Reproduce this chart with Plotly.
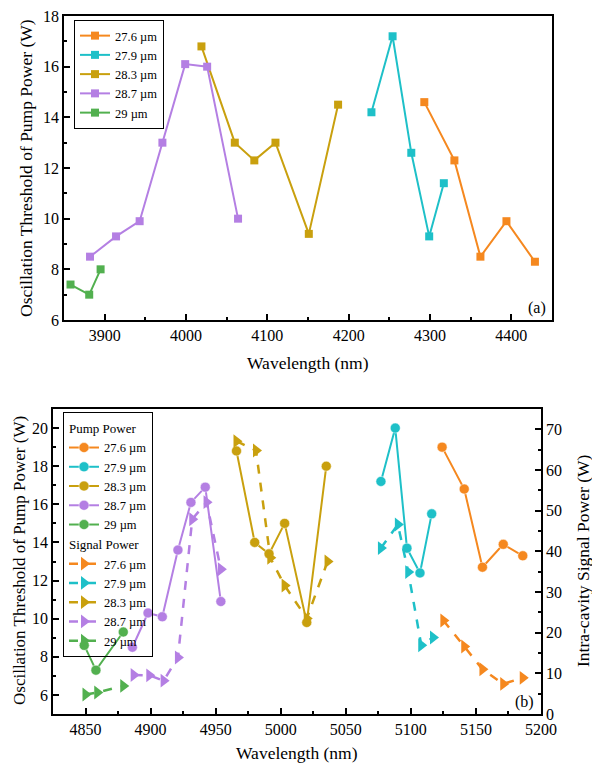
import plotly.graph_objects as go

W, H = 600, 773
OFF = 8  # page body margin offset

# ---------- data : panel (a) ----------
labels = ["27.6 µm", "27.9 µm", "28.3 µm", "28.7 µm", "29 µm"]
colors = ["#F5881F", "#1EC0C8", "#C9A00E", "#B47FE3", "#52B04F"]

a_276_x = [4293, 4330, 4362, 4394, 4429]
a_276_y = [14.6, 12.3, 8.5, 9.9, 8.3]
a_279_x = [4228, 4254, 4277, 4299, 4317]
a_279_y = [14.2, 17.2, 12.6, 9.3, 11.4]
a_283_x = [4019, 4060, 4084, 4110, 4151, 4187]
a_283_y = [16.8, 13.0, 12.3, 13.0, 9.4, 14.5]
a_287_x = [3882, 3914, 3943, 3971, 3999, 4026, 4064]
a_287_y = [8.5, 9.3, 9.9, 13.0, 16.1, 16.0, 10.0]
a_29_x = [3858, 3881, 3895]
a_29_y = [7.4, 7.0, 8.0]

# ---------- data : panel (b) pump power ----------
bp_276_x = [5124, 5141, 5155, 5171, 5186]
bp_276_y = [19.0, 16.8, 12.7, 13.9, 13.3]
bp_279_x = [5077, 5088, 5097, 5107, 5116]
bp_279_y = [17.2, 20.0, 13.7, 12.4, 15.5]
bp_283_x = [4966, 4980, 4991, 5003, 5020, 5035]
bp_283_y = [18.8, 14.0, 13.4, 15.0, 9.8, 18.0]
bp_287_x = [4886, 4898, 4909, 4921, 4931, 4942, 4954]
bp_287_y = [8.5, 10.3, 10.1, 13.6, 16.1, 16.9, 10.9]
bp_29_x = [4849, 4858, 4879]
bp_29_y = [8.6, 7.3, 9.3]

# ---------- data : panel (b) signal power ----------
bs_276_x = [5125, 5141, 5155, 5171, 5186]
bs_276_y = [23.0, 16.6, 11.0, 7.4, 8.9]
bs_279_x = [5077, 5090, 5098, 5108, 5117]
bs_279_y = [40.8, 46.6, 34.9, 16.9, 18.8]
bs_283_x = [4966, 4981, 4992, 5003, 5020, 5036]
bs_283_y = [67.1, 64.8, 38.4, 31.6, 23.5, 37.5]
bs_287_x = [4887, 4899, 4910, 4921, 4932, 4943, 4954]
bs_287_y = [9.6, 9.5, 8.2, 13.9, 47.9, 52.1, 35.6]
bs_29_x = [4850, 4859, 4879]
bs_29_y = [4.8, 5.3, 6.9]

a_series = [(a_276_x, a_276_y), (a_279_x, a_279_y), (a_283_x, a_283_y),
            (a_287_x, a_287_y), (a_29_x, a_29_y)]
bp_series = [(bp_276_x, bp_276_y), (bp_279_x, bp_279_y), (bp_283_x, bp_283_y),
             (bp_287_x, bp_287_y), (bp_29_x, bp_29_y)]
bs_series = [(bs_276_x, bs_276_y), (bs_279_x, bs_279_y), (bs_283_x, bs_283_y),
             (bs_287_x, bs_287_y), (bs_29_x, bs_29_y)]

FONT = "Liberation Serif, Times New Roman, DejaVu Serif, serif"


def px(x):
    return (x - OFF) / W


def py(y):
    return 1 - (y - OFF) / H


fig = go.Figure()

for (x, y), lab, c in zip(a_series, labels, colors):
    fig.add_trace(go.Scatter(x=x, y=y, mode="lines+markers", name=lab,
                             line=dict(color=c, width=2),
                             marker=dict(symbol="square", size=8, color=c),
                             xaxis="x", yaxis="y", legend="legend"))

for (x, y), lab, c in zip(bp_series, labels, colors):
    fig.add_trace(go.Scatter(x=x, y=y, mode="lines+markers", name=lab,
                             line=dict(color=c, width=2),
                             marker=dict(symbol="circle", size=10, color=c,
                                         line=dict(color="rgba(255,255,255,0.5)", width=1)),
                             legendgroup="pump",
                             legendgrouptitle=dict(text="Pump Power", font=dict(size=13, family=FONT, color="black")),
                             xaxis="x2", yaxis="y2", legend="legend2"))

for (x, y), lab, c in zip(bs_series, labels, colors):
    fig.add_trace(go.Scatter(x=x, y=y, mode="lines+markers", name=lab,
                             line=dict(color=c, width=2.5, dash="dash"),
                             marker=dict(symbol="triangle-right", size=12, color=c),
                             legendgroup="signal",
                             legendgrouptitle=dict(text="Signal Power", font=dict(size=13, family=FONT, color="black")),
                             xaxis="x2", yaxis="y3", legend="legend2"))

axis_common = dict(showline=True, linecolor="black", linewidth=1.5, ticks="inside",
                   ticklen=6, tickwidth=1.5, tickcolor="black", showgrid=False, zeroline=False,
                   automargin=False, ticklabeloverflow="allow",
                   tickfont=dict(family=FONT, size=16, color="black"))

top_x = [px(64), px(552)]
top_y = [py(320), py(16)]
bot_x = [px(53), px(541)]
bot_y = [py(714), py(409)]

fig.update_layout(
    width=W, height=H, margin=dict(l=0, r=0, t=0, b=0, pad=0, autoexpand=False),
    paper_bgcolor="white", plot_bgcolor="white",
    font=dict(family=FONT, color="black"),
    xaxis=dict(domain=top_x, anchor="y", range=[3850, 4450], dtick=100, mirror=True,
               minor=dict(dtick=50, ticks="inside", ticklen=3, tickcolor="black"), **axis_common),
    yaxis=dict(domain=top_y, anchor="x", range=[6, 18], dtick=2, mirror=True,
               minor=dict(dtick=1, ticks="inside", ticklen=3, tickcolor="black"), **axis_common),
    xaxis2=dict(domain=bot_x, anchor="y2", range=[4825, 5200], dtick=50, mirror=True,
                minor=dict(dtick=25, ticks="inside", ticklen=3, tickcolor="black"), **axis_common),
    yaxis2=dict(domain=bot_y, anchor="x2", range=[5, 21], dtick=2,
                minor=dict(dtick=1, ticks="inside", ticklen=3, tickcolor="black"), **axis_common),
    yaxis3=dict(overlaying="y2", side="right", anchor="x2", range=[0, 75], dtick=10, tick0=0,
                minor=dict(dtick=5, ticks="inside", ticklen=3, tickcolor="black"), **axis_common),
    legend=dict(x=px(74), y=py(20), xanchor="left", yanchor="top",
                bgcolor="white", bordercolor="black", borderwidth=1,
                font=dict(family=FONT, size=12.5, color="black"), tracegroupgap=0,
                itemwidth=30),
    legend2=dict(x=px(63), y=py(412), xanchor="left", yanchor="top",
                 bgcolor="rgba(255,255,255,0)", bordercolor="black", borderwidth=1,
                 font=dict(family=FONT, size=12.5, color="black"), tracegroupgap=0,
                 traceorder="grouped", itemwidth=30),
    showlegend=True,
)

ann_font = dict(family=FONT, size=17.5, color="black")
annotations = [
    dict(text="Oscillation Threshold of Pump Power (W)", x=px(26), y=py(168), textangle=-90, font=ann_font),
    dict(text="Wavelength (nm)", x=px(308), y=py(363), font=ann_font),
    dict(text="(a)", x=px(537), y=py(308), font=dict(family=FONT, size=16, color="black")),
    dict(text="Oscillation Threshold of Pump Power (W)", x=px(19), y=py(561), textangle=-90,
         font=dict(family=FONT, size=17, color="black")),
    dict(text="Intra-cavity Signal Power (W)", x=px(583), y=py(561), textangle=-90, font=ann_font),
    dict(text="Wavelength (nm)", x=px(297), y=py(753), font=ann_font),
    dict(text="(b)", x=px(524), y=py(702), font=dict(family=FONT, size=16, color="black")),
]
for a in annotations:
    fig.add_annotation(xref="paper", yref="paper", showarrow=False,
                       xanchor="center", yanchor="middle", **a)

fig.write_html("out.html")
